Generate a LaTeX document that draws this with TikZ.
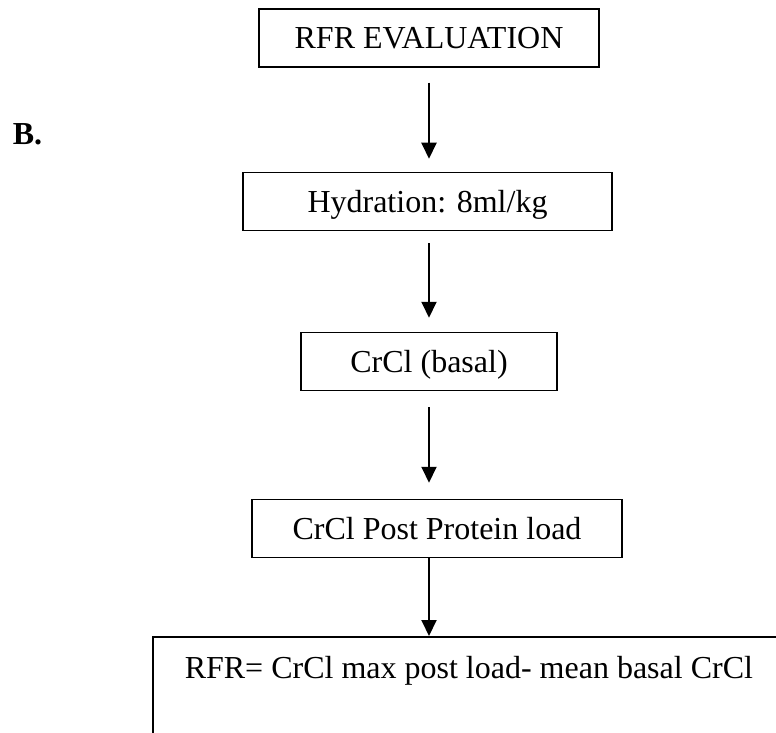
\documentclass[tikz,border=0pt]{standalone}
\usepackage{fontspec}
\setmainfont{Liberation Serif}
\usetikzlibrary{arrows.meta}

\newcommand{\flowfont}{\fontsize{32pt}{38pt}\selectfont}

\begin{document}
\begin{tikzpicture}[x=1pt, y=-1pt, line width=1.5pt,
    every node/.style={font=\flowfont},
    stepbox/.style={draw, rectangle, inner sep=0pt, text height=21pt, text depth=0pt, minimum height=58pt},
    flow/.style={line width=2pt, -{Triangle[length=16pt, width=15pt]}}]
  \useasboundingbox (0,0) rectangle (776,733);

  \node[font=\flowfont\bfseries, anchor=base west, inner sep=0pt] (B) at (12,145) {B.};

  \node[stepbox, minimum width=340pt] (E) at (429,38) {RFR EVALUATION};
  \node[stepbox, minimum width=369pt] (H) at (427.5,201.5) {Hydration: 8ml/kg};
  \node[stepbox, minimum width=256pt] (C) at (429,361.5) {CrCl (basal)};
  \node[stepbox, minimum width=370pt] (P) at (437,528.5) {CrCl Post Protein load};
  \node[draw, anchor=north west, inner xsep=32pt, inner ysep=20pt, text height=22pt, text depth=80pt] (R) at (152,636) {RFR= CrCl max post load- mean basal CrCl};

  \draw[flow, shorten <=15pt, shorten >=13pt] (E.south) -- (E.south |- H.north);
  \draw[flow, shorten <=12pt, shorten >=14pt] (H.south -| E) -- (C.north -| E);
  \draw[flow, shorten <=16pt, shorten >=16pt] (C.south -| E) -- (P.north -| E);
  \draw[flow] (P.south -| E) -- (R.north -| E);
\end{tikzpicture}
\end{document}
